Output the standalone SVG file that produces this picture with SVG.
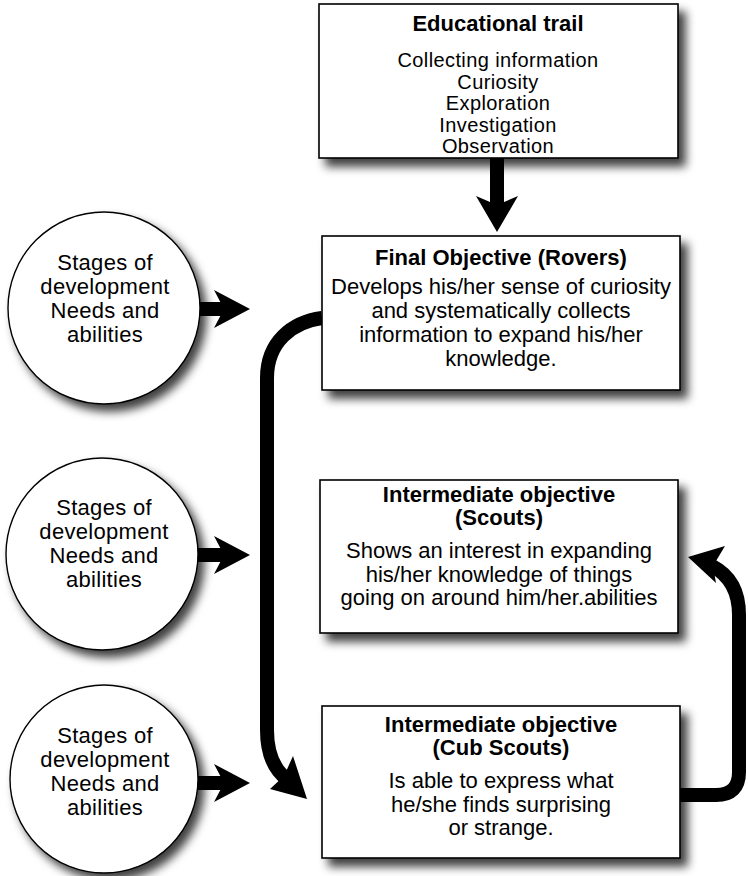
<svg xmlns="http://www.w3.org/2000/svg" width="748" height="876" viewBox="0 0 748 876">
<defs>
<filter id="sh" x="-20%" y="-20%" width="150%" height="150%">
<feDropShadow dx="7" dy="8" stdDeviation="5" flood-color="#000" flood-opacity="0.75"/>
</filter>
<filter id="shc" x="-20%" y="-20%" width="150%" height="150%">
<feDropShadow dx="6" dy="7" stdDeviation="5" flood-color="#000" flood-opacity="0.75"/>
</filter>
</defs>
<style>
.box{fill:#fff;stroke:#000;stroke-width:1.6;filter:url(#sh)}
.circ{fill:#fff;stroke:#000;stroke-width:1.4;filter:url(#shc)}
text{font-family:"Liberation Sans",Arial,sans-serif;font-size:22px;fill:#000;text-anchor:middle}
.b{font-weight:bold}
.c{font-size:22px;letter-spacing:0.3px}
.s{font-size:20px;letter-spacing:0.4px}
.line{fill:none;stroke:#000;stroke-width:14;stroke-linecap:butt;stroke-linejoin:round}
.head{fill:#000;stroke:none}
</style>
<rect width="748" height="876" fill="#fff"/>

<g id="connectors">
<line class="line" x1="497" y1="158" x2="497" y2="206" stroke-width="13"/>
<polygon class="head" points="497,232 476,196 497,205 518,196"/>
<line class="line" x1="190" y1="309" x2="226" y2="309"/>
<polygon class="head" points="250,309 214,290 224,309 214,328"/>
<line class="line" x1="190" y1="555" x2="226" y2="555"/>
<polygon class="head" points="250,555 214,536 224,555 214,574"/>
<line class="line" x1="190" y1="783" x2="226" y2="783"/>
<polygon class="head" points="250,783 214,764 224,783 214,802"/>
<path class="line" stroke-width="13" d="M322,318 C292,322 267,342 267,378 L267,730 Q267,765 288,780"/>
<polygon class="head" points="307,799 270,789 284,776 293,756"/>
<path class="line" d="M680,795 L716,795 Q739,795 739,772 L739,615 Q739,580 712,566"/>
<polygon class="head" points="688,557 725,546 713,566 716,583"/>
</g>

<g id="educational-trail">
<rect class="box" x="319" y="4" width="359" height="154"/>
<text class="b" x="498" y="31">Educational trail</text>
<text class="s" x="498" y="67">Collecting information</text>
<text class="s" x="498" y="88.5">Curiosity</text>
<text class="s" x="498" y="110">Exploration</text>
<text class="s" x="498" y="131.5">Investigation</text>
<text class="s" x="498" y="153">Observation</text>
</g>

<g id="final-objective">
<rect class="box" x="322" y="236" width="358" height="154"/>
<text class="b" x="501" y="265">Final Objective (Rovers)</text>
<text x="501" y="294">Develops his/her sense of curiosity</text>
<text x="501" y="318">and systematically collects</text>
<text x="501" y="342">information to expand his/her</text>
<text x="501" y="366">knowledge.</text>
</g>

<g id="scouts">
<rect class="box" x="320" y="480" width="358" height="153"/>
<text class="b" x="499" y="502">Intermediate objective</text>
<text class="b" x="499" y="525">(Scouts)</text>
<text x="499" y="558">Shows an interest in expanding</text>
<text x="499" y="582">his/her knowledge of things</text>
<text x="499" y="605">going on around him/her.abilities</text>
</g>

<g id="cub-scouts">
<rect class="box" x="322" y="706" width="358" height="152"/>
<text class="b" x="501" y="732">Intermediate objective</text>
<text class="b" x="501" y="755">(Cub Scouts)</text>
<text x="501" y="788">Is able to express what</text>
<text x="501" y="812">he/she finds surprising</text>
<text x="501" y="835">or strange.</text>
</g>

<g id="stages-1">
<circle class="circ" cx="104" cy="308" r="96"/>
<text class="c" x="105" y="270">Stages of</text>
<text class="c" x="105" y="294">development</text>
<text class="c" x="105" y="318">Needs and</text>
<text class="c" x="105" y="342">abilities</text>
</g>

<g id="stages-2">
<circle class="circ" cx="102" cy="554" r="96"/>
<text class="c" x="104" y="515">Stages of</text>
<text class="c" x="104" y="539">development</text>
<text class="c" x="104" y="563">Needs and</text>
<text class="c" x="104" y="587">abilities</text>
</g>

<g id="stages-3">
<circle class="circ" cx="104" cy="779" r="94"/>
<text class="c" x="105" y="743">Stages of</text>
<text class="c" x="105" y="767">development</text>
<text class="c" x="105" y="791">Needs and</text>
<text class="c" x="105" y="815">abilities</text>
</g>
</svg>
